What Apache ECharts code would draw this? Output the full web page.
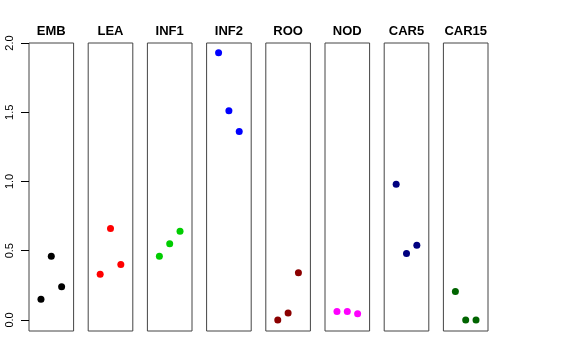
<!DOCTYPE html>
<html><head><meta charset="utf-8">
<script src="https://cdn.jsdelivr.net/npm/echarts@6/dist/echarts.min.js"></script>
<style>html,body{margin:0;padding:0;background:#fff}#c{width:576px;height:360px}</style>
</head><body><div id="c"></div>
<script>
const categories = ['EMB','LEA','INF1','INF2','ROO','NOD','CAR5','CAR15'];
const colors = ['#000000','#FF0000','#00CD00','#0000FF','#8B0000','#FF00FF','#000080','#006400'];
const valEMB = [0.15, 0.46, 0.24];
const valLEA = [0.33, 0.66, 0.40];
const valINF1 = [0.46, 0.55, 0.64];
const valINF2 = [1.93, 1.51, 1.36];
const valROO = [0.00, 0.05, 0.34];
const valNOD = [0.06, 0.06, 0.045];
const valCAR5 = [0.98, 0.48, 0.54];
const valCAR15 = [0.205, 0.00, 0.00];
const yTickMin = 0, yTickMax = 2.0, yTickStep = 0.5;
const values = [valEMB, valLEA, valINF1, valINF2, valROO, valNOD, valCAR5, valCAR15];

const grids = [], xAxes = [], yAxes = [], series = [], titles = [];
const L0 = 29, STEP = 59.2, W = 44.6, TOP = 43, H = 288;
const YMIN = -0.08, YMAX = 2.0;
const TICK = 8;
const FONT = 'Liberation Sans, Arial, sans-serif';
// axis strip just left of the first panel; its split lines act as the outward tick marks
const pxPerUnit = H / (YMAX - YMIN);
grids.push({left: L0 - TICK, top: TOP + (YMAX - yTickMax) * pxPerUnit, width: TICK, height: (yTickMax - yTickMin) * pxPerUnit, show: false});
xAxes.push({type: 'value', gridIndex: 0, show: false, min: 0, max: 1});
yAxes.push({type: 'value', gridIndex: 0, min: yTickMin, max: yTickMax, interval: yTickStep,
  splitLine: {show: true, lineStyle: {color: '#000', width: 1}},
  axisLine: {show: false},
  axisTick: {show: false},
  axisLabel: {show: true, rotate: 90, margin: 6, color: '#000', fontSize: 11, fontFamily: FONT,
    formatter: v => v.toFixed(1)}
});
categories.forEach((name, i) => {
  const left = L0 + i * STEP;
  const g = i + 1;
  grids.push({left: left, top: TOP, width: W, height: H, show: true, borderColor: '#444', borderWidth: 1, backgroundColor: 'transparent'});
  xAxes.push({type: 'value', gridIndex: g, min: -0.16, max: 4.16, show: false});
  yAxes.push({type: 'value', gridIndex: g, min: YMIN, max: YMAX, show: false});
  titles.push({text: name, left: left + W / 2, top: 24.5, textAlign: 'center', padding: 0,
    textStyle: {fontSize: 13, fontWeight: 'bold', color: '#000', fontFamily: FONT}});
  series.push({type: 'scatter', xAxisIndex: g, yAxisIndex: g, symbol: 'circle', symbolSize: 7,
    itemStyle: {color: colors[i], opacity: 1}, data: values[i].map((v, k) => [k + 1, v]), animation: false});
});

const chart = echarts.init(document.getElementById('c'), null, {renderer: 'canvas'});
chart.setOption({animation: false, title: titles, grid: grids, xAxis: xAxes, yAxis: yAxes, series: series});
</script></body></html>
